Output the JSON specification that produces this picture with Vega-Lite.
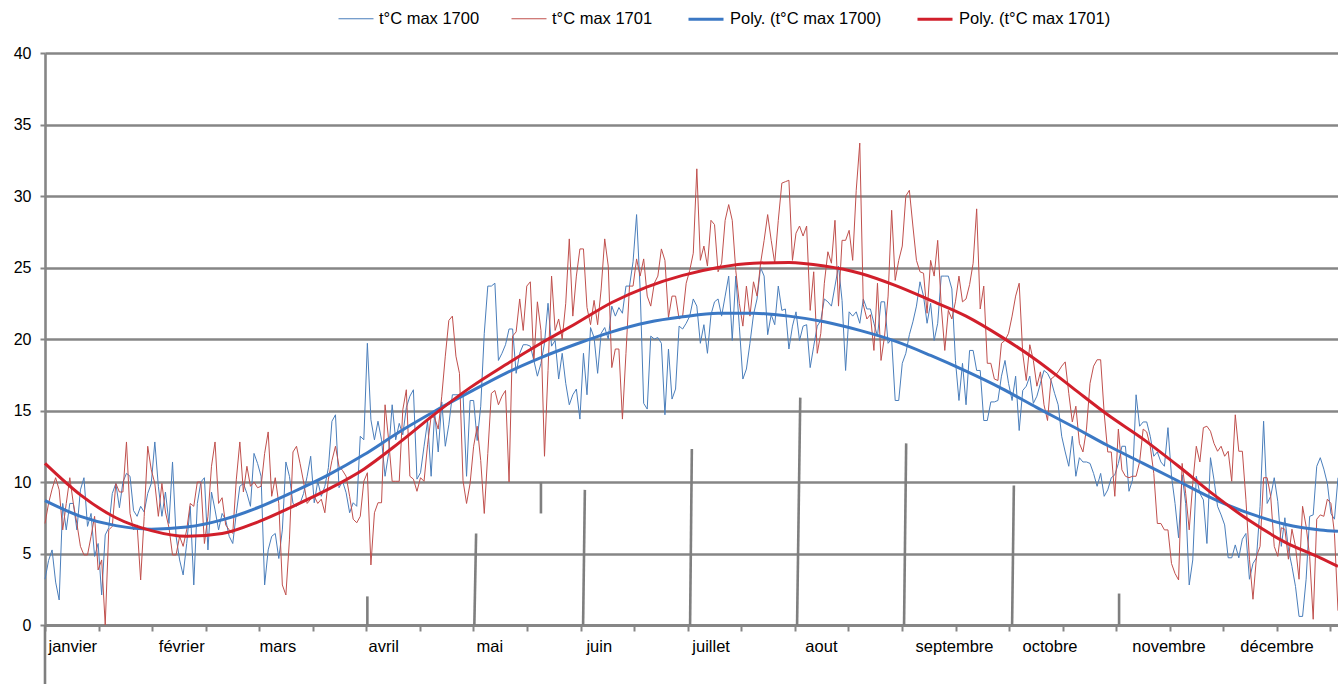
{
"$schema":"https://vega.github.io/schema/vega-lite/v6.json",
"width":1293,"height":572,
"autosize":{"type":"none"},
"padding":{"left":45,"top":53,"right":0,"bottom":59},
"background":"white",
"config":{"font":"Liberation Sans","view":{"stroke":null}},
"datasets":{
"raw":[
{"d":0,"a":3.2,"b":7.1},{"d":1,"a":4.5,"b":8.5},{"d":2,"a":5.25,"b":9.5},{"d":3,"a":3.0,"b":10.3},{"d":4,"a":1.75,"b":9.45},{"d":5,"a":8.5,"b":6.65},{"d":6,"a":6.65,"b":8.5},{"d":7,"a":8.5,"b":10.3},{"d":8,"a":8.5,"b":8.5},{"d":9,"a":6.65,"b":7.1},
{"d":10,"a":9.45,"b":5.5},{"d":11,"a":10.3,"b":4.9},{"d":12,"a":6.9,"b":4.9},{"d":13,"a":7.8,"b":6.2},{"d":14,"a":4.8,"b":7.6},{"d":15,"a":5.7,"b":3.85},{"d":16,"a":2.1,"b":4.55},{"d":17,"a":6.3,"b":0.0},{"d":18,"a":6.8,"b":6.65},{"d":19,"a":9.2,"b":6.9},
{"d":20,"a":9.9,"b":9.9},{"d":21,"a":8.2,"b":9.3},{"d":22,"a":10.0,"b":9.3},{"d":23,"a":10.6,"b":12.8},{"d":24,"a":10.4,"b":7.8},{"d":25,"a":8.0,"b":6.65},{"d":26,"a":7.6,"b":7.0},{"d":27,"a":8.3,"b":3.15},{"d":28,"a":7.9,"b":7.6},{"d":29,"a":9.2,"b":12.5},
{"d":30,"a":9.9,"b":10.85},{"d":31,"a":12.8,"b":9.9},{"d":32,"a":9.7,"b":7.6},{"d":33,"a":7.6,"b":9.9},{"d":34,"a":9.3,"b":7.9},{"d":35,"a":7.1,"b":6.8},{"d":36,"a":11.4,"b":4.9},{"d":37,"a":6.2,"b":4.9},{"d":38,"a":4.55,"b":6.2},{"d":39,"a":3.5,"b":5.5},
{"d":40,"a":5.7,"b":6.65},{"d":41,"a":8.3,"b":8.5},{"d":42,"a":2.8,"b":8.3},{"d":43,"a":8.5,"b":10.0},{"d":44,"a":10.0,"b":10.0},{"d":45,"a":10.3,"b":5.7},{"d":46,"a":5.25,"b":7.6},{"d":47,"a":9.3,"b":11.1},{"d":48,"a":8.05,"b":12.8},{"d":49,"a":6.65,"b":8.5},
{"d":50,"a":7.8,"b":8.9},{"d":51,"a":7.35,"b":7.0},{"d":52,"a":6.2,"b":6.65},{"d":53,"a":5.7,"b":6.4},{"d":54,"a":7.8,"b":10.15},{"d":55,"a":9.7,"b":12.8},{"d":56,"a":9.9,"b":9.3},{"d":57,"a":9.2,"b":11.1},{"d":58,"a":8.3,"b":9.7},{"d":59,"a":12.0,"b":10.0},
{"d":60,"a":11.3,"b":9.6},{"d":61,"a":10.4,"b":9.7},{"d":62,"a":2.8,"b":12.0},{"d":63,"a":5.25,"b":13.5},{"d":64,"a":6.2,"b":9.0},{"d":65,"a":6.4,"b":10.3},{"d":66,"a":4.65,"b":8.5},{"d":67,"a":6.65,"b":2.8},{"d":68,"a":11.4,"b":2.1},{"d":69,"a":10.4,"b":5.95},
{"d":70,"a":8.5,"b":12.1},{"d":71,"a":8.3,"b":12.5},{"d":72,"a":8.5,"b":11.3},{"d":73,"a":9.2,"b":10.0},{"d":74,"a":10.4,"b":8.5},{"d":75,"a":11.8,"b":8.8},{"d":76,"a":8.55,"b":9.0},{"d":77,"a":10.05,"b":8.5},{"d":78,"a":9.0,"b":8.8},{"d":79,"a":9.7,"b":7.85},
{"d":80,"a":11.0,"b":10.2},{"d":81,"a":14.25,"b":11.5},{"d":82,"a":14.7,"b":12.5},{"d":83,"a":9.6,"b":11.1},{"d":84,"a":10.05,"b":10.8},{"d":85,"a":9.25,"b":10.4},{"d":86,"a":7.85,"b":9.0},{"d":87,"a":8.55,"b":7.4},{"d":88,"a":8.3,"b":7.15},{"d":89,"a":13.2,"b":7.6},
{"d":90,"a":12.95,"b":10.05},{"d":91,"a":19.7,"b":10.65},{"d":92,"a":14.35,"b":4.2},{"d":93,"a":12.95,"b":7.85},{"d":94,"a":14.25,"b":8.55},{"d":95,"a":12.95,"b":8.55},{"d":96,"a":10.4,"b":15.4},{"d":97,"a":12.0,"b":12.95},{"d":98,"a":15.4,"b":10.05},{"d":99,"a":12.95,"b":10.05},
{"d":100,"a":14.1,"b":10.05},{"d":101,"a":13.3,"b":15.05},{"d":102,"a":15.2,"b":16.45},{"d":103,"a":16.0,"b":10.4},{"d":104,"a":16.45,"b":10.2},{"d":105,"a":10.2,"b":9.35},{"d":106,"a":10.65,"b":10.3},{"d":107,"a":12.5,"b":10.05},{"d":108,"a":14.25,"b":12.6},{"d":109,"a":10.4,"b":14.6},
{"d":110,"a":14.9,"b":14.5},{"d":111,"a":12.1,"b":13.7},{"d":112,"a":15.6,"b":16.0},{"d":113,"a":12.5,"b":18.8},{"d":114,"a":14.0,"b":21.3},{"d":115,"a":16.1,"b":21.6},{"d":116,"a":16.1,"b":18.8},{"d":117,"a":16.1,"b":17.6},{"d":118,"a":16.2,"b":10.1},{"d":119,"a":10.4,"b":8.5},
{"d":120,"a":15.7,"b":9.9},{"d":121,"a":15.7,"b":12.5},{"d":122,"a":12.9,"b":13.9},{"d":123,"a":15.3,"b":11.5},{"d":124,"a":20.4,"b":7.8},{"d":125,"a":23.7,"b":12.0},{"d":126,"a":23.7,"b":16.2},{"d":127,"a":23.9,"b":16.4},{"d":128,"a":18.5,"b":15.4},{"d":129,"a":19.0,"b":16.0},
{"d":130,"a":19.6,"b":16.4},{"d":131,"a":20.7,"b":10.0},{"d":132,"a":20.7,"b":20.2},{"d":133,"a":17.6,"b":20.5},{"d":134,"a":19.0,"b":22.8},{"d":135,"a":19.6,"b":20.6},{"d":136,"a":19.6,"b":23.7},{"d":137,"a":19.5,"b":24.0},{"d":138,"a":18.5,"b":18.4},{"d":139,"a":17.4,"b":22.6},
{"d":140,"a":18.3,"b":20.6},{"d":141,"a":19.7,"b":11.8},{"d":142,"a":22.5,"b":17.8},{"d":143,"a":19.5,"b":24.4},{"d":144,"a":19.9,"b":20.6},{"d":145,"a":17.2,"b":21.4},{"d":146,"a":19.0,"b":20.0},{"d":147,"a":16.9,"b":22.5},{"d":148,"a":15.4,"b":27.0},{"d":149,"a":16.1,"b":21.6},
{"d":150,"a":16.5,"b":24.4},{"d":151,"a":14.4,"b":26.3},{"d":152,"a":19.0,"b":26.3},{"d":153,"a":16.1,"b":22.2},{"d":154,"a":20.8,"b":21.0},{"d":155,"a":20.1,"b":22.7},{"d":156,"a":17.6,"b":21.0},{"d":157,"a":20.4,"b":23.5},{"d":158,"a":20.8,"b":27.0},{"d":159,"a":20.0,"b":25.1},
{"d":160,"a":22.3,"b":18.0},{"d":161,"a":21.6,"b":19.3},{"d":162,"a":22.2,"b":19.3},{"d":163,"a":21.8,"b":14.4},{"d":164,"a":23.7,"b":19.0},{"d":165,"a":23.7,"b":23.7},{"d":166,"a":25.4,"b":23.7},{"d":167,"a":28.7,"b":25.6},{"d":168,"a":23.5,"b":24.4},{"d":169,"a":15.5,"b":25.6},
{"d":170,"a":15.1,"b":23.0},{"d":171,"a":20.2,"b":22.3},{"d":172,"a":20.0,"b":23.9},{"d":173,"a":20.1,"b":24.4},{"d":174,"a":19.7,"b":26.3},{"d":175,"a":14.7,"b":25.5},{"d":176,"a":19.3,"b":21.5},{"d":177,"a":15.8,"b":23.0},{"d":178,"a":16.5,"b":23.0},{"d":179,"a":20.9,"b":21.4},
{"d":180,"a":20.7,"b":21.6},{"d":181,"a":21.1,"b":23.9},{"d":182,"a":21.6,"b":24.8},{"d":183,"a":22.8,"b":26.0},{"d":184,"a":22.3,"b":31.9},{"d":185,"a":19.7,"b":25.5},{"d":186,"a":21.0,"b":26.5},{"d":187,"a":19.0,"b":25.1},{"d":188,"a":21.7,"b":28.3},{"d":189,"a":22.6,"b":28.0},
{"d":190,"a":22.8,"b":24.7},{"d":191,"a":21.6,"b":25.3},{"d":192,"a":23.0,"b":28.3},{"d":193,"a":24.4,"b":29.4},{"d":194,"a":19.9,"b":28.3},{"d":195,"a":24.4,"b":24.8},{"d":196,"a":20.9,"b":22.5},{"d":197,"a":17.2,"b":20.9},{"d":198,"a":17.9,"b":23.7},{"d":199,"a":19.7,"b":21.6},
{"d":200,"a":21.7,"b":24.0},{"d":201,"a":22.8,"b":23.0},{"d":202,"a":25.0,"b":25.3},{"d":203,"a":24.4,"b":26.9},{"d":204,"a":20.3,"b":28.7},{"d":205,"a":21.7,"b":26.9},{"d":206,"a":21.0,"b":25.3},{"d":207,"a":23.7,"b":28.3},{"d":208,"a":22.0,"b":30.9},{"d":209,"a":22.1,"b":31.0},
{"d":210,"a":19.3,"b":31.1},{"d":211,"a":20.9,"b":25.5},{"d":212,"a":21.9,"b":27.4},{"d":213,"a":19.9,"b":27.9},{"d":214,"a":20.9,"b":27.2},{"d":215,"a":21.0,"b":27.9},{"d":216,"a":18.0,"b":22.0},{"d":217,"a":19.5,"b":24.7},{"d":218,"a":20.9,"b":19.0},{"d":219,"a":21.3,"b":20.4},
{"d":220,"a":22.8,"b":23.9},{"d":221,"a":22.6,"b":26.1},{"d":222,"a":22.3,"b":25.3},{"d":223,"a":23.7,"b":28.3},{"d":224,"a":25.1,"b":22.3},{"d":225,"a":22.7,"b":26.9},{"d":226,"a":17.8,"b":26.9},{"d":227,"a":21.9,"b":27.6},{"d":228,"a":21.6,"b":25.5},{"d":229,"a":21.9,"b":30.4},
{"d":230,"a":21.1,"b":33.7},{"d":231,"a":22.8,"b":22.4},{"d":232,"a":22.1,"b":21.4},{"d":233,"a":22.1,"b":21.7},{"d":234,"a":21.1,"b":19.2},{"d":235,"a":20.2,"b":23.9},{"d":236,"a":22.6,"b":18.5},{"d":237,"a":22.6,"b":20.2},{"d":238,"a":19.7,"b":23.0},{"d":239,"a":20.0,"b":29.0},
{"d":240,"a":15.7,"b":24.1},{"d":241,"a":15.7,"b":25.5},{"d":242,"a":18.3,"b":26.5},{"d":243,"a":19.0,"b":30.0},{"d":244,"a":20.3,"b":30.4},{"d":245,"a":21.2,"b":27.9},{"d":246,"a":22.3,"b":25.5},{"d":247,"a":24.0,"b":24.7},{"d":248,"a":23.0,"b":24.6},{"d":249,"a":21.1,"b":21.8},
{"d":250,"a":22.5,"b":25.5},{"d":251,"a":19.9,"b":24.4},{"d":252,"a":21.1,"b":26.9},{"d":253,"a":24.4,"b":22.3},{"d":254,"a":24.4,"b":19.2},{"d":255,"a":24.4,"b":22.0},{"d":256,"a":23.5,"b":21.4},{"d":257,"a":18.5,"b":22.6},{"d":258,"a":15.7,"b":24.4},{"d":259,"a":18.3,"b":22.6},
{"d":260,"a":15.4,"b":22.8},{"d":261,"a":19.2,"b":23.8},{"d":262,"a":19.2,"b":25.3},{"d":263,"a":17.8,"b":29.1},{"d":264,"a":17.8,"b":22.1},{"d":265,"a":14.3,"b":23.7},{"d":266,"a":14.3,"b":18.3},{"d":267,"a":15.6,"b":18.3},{"d":268,"a":15.6,"b":17.2},{"d":269,"a":15.7,"b":17.1},
{"d":270,"a":17.4,"b":19.7},{"d":271,"a":18.5,"b":19.9},{"d":272,"a":16.9,"b":20.4},{"d":273,"a":15.7,"b":21.6},{"d":274,"a":17.4,"b":23.0},{"d":275,"a":13.6,"b":23.9},{"d":276,"a":16.4,"b":19.0},{"d":277,"a":16.7,"b":17.1},{"d":278,"a":17.4,"b":19.6},{"d":279,"a":15.5,"b":18.5},
{"d":280,"a":16.0,"b":16.7},{"d":281,"a":16.9,"b":17.7},{"d":282,"a":17.8,"b":15.4},{"d":283,"a":17.6,"b":14.3},{"d":284,"a":17.1,"b":17.2},{"d":285,"a":16.2,"b":17.4},{"d":286,"a":15.4,"b":17.7},{"d":287,"a":13.2,"b":18.1},{"d":288,"a":12.1,"b":18.4},{"d":289,"a":11.1,"b":16.2},
{"d":290,"a":13.2,"b":14.2},{"d":291,"a":10.4,"b":15.3},{"d":292,"a":11.7,"b":12.7},{"d":293,"a":11.4,"b":12.1},{"d":294,"a":11.4,"b":13.7},{"d":295,"a":11.3,"b":16.9},{"d":296,"a":10.6,"b":18.1},{"d":297,"a":9.7,"b":18.55},{"d":298,"a":10.6,"b":18.55},{"d":299,"a":9.0,"b":14.8},
{"d":300,"a":9.45,"b":12.1},{"d":301,"a":10.3,"b":12.1},{"d":302,"a":10.5,"b":9.0},{"d":303,"a":11.3,"b":13.7},{"d":304,"a":12.5,"b":10.85},{"d":305,"a":12.5,"b":10.4},{"d":306,"a":9.35,"b":10.3},{"d":307,"a":10.15,"b":10.4},{"d":308,"a":16.1,"b":10.4},{"d":309,"a":13.9,"b":11.4},
{"d":310,"a":14.2,"b":13.7},{"d":311,"a":14.2,"b":13.5},{"d":312,"a":13.2,"b":12.5},{"d":313,"a":11.8,"b":10.6},{"d":314,"a":12.1,"b":7.1},{"d":315,"a":11.4,"b":7.1},{"d":316,"a":11.1,"b":6.65},{"d":317,"a":13.8,"b":6.65},{"d":318,"a":10.4,"b":4.3},{"d":319,"a":8.5,"b":3.6},
{"d":320,"a":6.1,"b":3.15},{"d":321,"a":10.5,"b":11.3},{"d":322,"a":8.5,"b":9.2},{"d":323,"a":2.8,"b":6.65},{"d":324,"a":4.55,"b":9.9},{"d":325,"a":10.4,"b":12.5},{"d":326,"a":9.2,"b":11.4},{"d":327,"a":8.75,"b":13.8},{"d":328,"a":5.7,"b":13.9},{"d":329,"a":11.7,"b":13.55},
{"d":330,"a":10.15,"b":12.7},{"d":331,"a":8.3,"b":12.15},{"d":332,"a":7.7,"b":12.5},{"d":333,"a":7.0,"b":11.8},{"d":334,"a":4.7,"b":12.15},{"d":335,"a":4.7,"b":10.05},{"d":336,"a":5.6,"b":14.7},{"d":337,"a":4.7,"b":12.15},{"d":338,"a":6.0,"b":12.15},{"d":339,"a":6.4,"b":8.8},
{"d":340,"a":3.2,"b":4.6},{"d":341,"a":4.3,"b":1.8},{"d":342,"a":4.7,"b":4.8},{"d":343,"a":8.3,"b":5.5},{"d":344,"a":14.25,"b":10.3},{"d":345,"a":8.5,"b":10.3},{"d":346,"a":9.0,"b":9.0},{"d":347,"a":10.3,"b":5.5},{"d":348,"a":8.65,"b":4.8},{"d":349,"a":5.5,"b":6.8},
{"d":350,"a":7.5,"b":6.7},{"d":351,"a":5.3,"b":4.6},{"d":352,"a":4.1,"b":6.7},{"d":353,"a":2.7,"b":5.5},{"d":354,"a":0.6,"b":3.2},{"d":355,"a":0.6,"b":8.3},{"d":356,"a":3.2,"b":6.9},{"d":357,"a":7.6,"b":4.8},{"d":358,"a":7.7,"b":0.4},{"d":359,"a":11.1,"b":7.4},
{"d":360,"a":11.7,"b":7.7},{"d":361,"a":10.9,"b":7.6},{"d":362,"a":9.9,"b":8.8},{"d":363,"a":7.8,"b":8.5},{"d":364,"a":7.4,"b":6.4},{"d":365,"a":10.3,"b":1.0}
],
"poly":[
{"d":0,"s":"pa","v":8.7},{"d":10,"s":"pa","v":7.6},{"d":20,"s":"pa","v":6.95},{"d":30,"s":"pa","v":6.7},{"d":40,"s":"pa","v":6.85},{"d":50,"s":"pa","v":7.35},{"d":60,"s":"pa","v":8.2},{"d":70,"s":"pa","v":9.3},{"d":80,"s":"pa","v":10.5},{"d":90,"s":"pa","v":11.9},{"d":100,"s":"pa","v":13.5},{"d":110,"s":"pa","v":14.95},{"d":120,"s":"pa","v":16.3},{"d":130,"s":"pa","v":17.6},{"d":140,"s":"pa","v":18.7},{"d":150,"s":"pa","v":19.65},{"d":160,"s":"pa","v":20.5},{"d":170,"s":"pa","v":21.15},{"d":180,"s":"pa","v":21.55},{"d":190,"s":"pa","v":21.8},{"d":200,"s":"pa","v":21.8},{"d":210,"s":"pa","v":21.6},{"d":220,"s":"pa","v":21.2},{"d":230,"s":"pa","v":20.6},{"d":240,"s":"pa","v":19.85},{"d":250,"s":"pa","v":18.85},{"d":260,"s":"pa","v":17.75},{"d":270,"s":"pa","v":16.55},{"d":280,"s":"pa","v":15.2},{"d":290,"s":"pa","v":13.9},{"d":300,"s":"pa","v":12.55},{"d":310,"s":"pa","v":11.3},{"d":320,"s":"pa","v":10.05},{"d":330,"s":"pa","v":8.8},{"d":340,"s":"pa","v":7.8},{"d":350,"s":"pa","v":7.05},{"d":360,"s":"pa","v":6.65},{"d":365,"s":"pa","v":6.55},
{"d":0,"s":"pb","v":11.3},{"d":10,"s":"pb","v":9.1},{"d":20,"s":"pb","v":7.5},{"d":30,"s":"pb","v":6.6},{"d":40,"s":"pb","v":6.2},{"d":50,"s":"pb","v":6.4},{"d":60,"s":"pb","v":7.2},{"d":70,"s":"pb","v":8.3},{"d":80,"s":"pb","v":9.5},{"d":90,"s":"pb","v":10.9},{"d":100,"s":"pb","v":12.75},{"d":110,"s":"pb","v":14.75},{"d":120,"s":"pb","v":16.6},{"d":130,"s":"pb","v":18.2},{"d":140,"s":"pb","v":19.7},{"d":150,"s":"pb","v":21.1},{"d":160,"s":"pb","v":22.55},{"d":170,"s":"pb","v":23.65},{"d":180,"s":"pb","v":24.45},{"d":190,"s":"pb","v":25.0},{"d":200,"s":"pb","v":25.3},{"d":210,"s":"pb","v":25.35},{"d":220,"s":"pb","v":25.1},{"d":230,"s":"pb","v":24.6},{"d":240,"s":"pb","v":23.75},{"d":250,"s":"pb","v":22.7},{"d":260,"s":"pb","v":21.6},{"d":270,"s":"pb","v":20.15},{"d":280,"s":"pb","v":18.5},{"d":290,"s":"pb","v":16.6},{"d":300,"s":"pb","v":14.7},{"d":310,"s":"pb","v":13.0},{"d":320,"s":"pb","v":11.1},{"d":330,"s":"pb","v":9.1},{"d":340,"s":"pb","v":7.3},{"d":350,"s":"pb","v":5.8},{"d":360,"s":"pb","v":4.7},{"d":365,"s":"pb","v":4.1}
],
"marks":[
{"x1":91.0,"x2":91.0,"y1":0,"y2":2.0},
{"x1":121.2,"x2":121.7,"y1":0,"y2":6.4},
{"x1":140.0,"x2":140.0,"y1":7.8,"y2":10.0},
{"x1":151.9,"x2":152.4,"y1":0,"y2":9.45},
{"x1":182.1,"x2":182.6,"y1":0,"y2":12.3},
{"x1":212.3,"x2":213.2,"y1":0,"y2":15.9},
{"x1":242.5,"x2":243.1,"y1":0,"y2":12.7},
{"x1":273.0,"x2":273.5,"y1":0,"y2":9.75},
{"x1":303.2,"x2":303.2,"y1":0,"y2":2.2},
{"x1":0,"x2":0,"y1":0,"y2":-4.2}
]
},
"resolve":{"axis":{"x":"independent","y":"independent"}},
"layer":[
{
"data":{"name":"marks"},
"mark":{"type":"rule","color":"#7f7f7f","strokeWidth":2.6},
"encoding":{
"x":{"field":"x1","type":"quantitative","scale":{"domain":[0,365],"nice":false,"zero":false},
"axis":{"orient":"bottom","values":[0.85,32,60.4,91.2,121.7,152.7,182.6,214.5,245.6,275.8,306.8,337.3],
"labelExpr":"['janvier','février','mars','avril','mai','juin','juillet','aout','septembre','octobre','novembre','décembre'][indexof([0.85,32,60.4,91.2,121.7,152.7,182.6,214.5,245.6,275.8,306.8,337.3], datum.value)]",
"ticks":false,"domain":false,"grid":false,"labelAlign":"left","labelBaseline":"top","labelFontSize":16.5,"labelColor":"#000000","labelPadding":13,"labelOverlap":false,"labelBound":false,"labelFlush":false,"title":null}},
"x2":{"field":"x2"},
"y":{"field":"y1","type":"quantitative","scale":{"domain":[0,40],"nice":false,"zero":false},"axis":null},
"y2":{"field":"y2"}
}
},
{
"data":{"name":"raw"},
"transform":[{"fold":["a","b"],"as":["s","v"]}],
"mark":{"type":"line","interpolate":"linear"},
"encoding":{
"x":{"field":"d","type":"quantitative","scale":{"domain":[0,365],"nice":false,"zero":false},
"axis":{"orient":"bottom","values":[0,15.12,30.24,45.36,60.48,75.6,90.72,105.84,120.96,136.08,151.2,166.32,181.44,196.56,211.68,226.8,241.92,257.04,272.16,287.28,302.4,317.52,332.64,347.76,362.88],
"labels":false,"grid":false,"domainColor":"#868686","domainWidth":3,"tickColor":"#868686","tickWidth":2,"tickSize":6,"title":null}},
"y":{"field":"v","type":"quantitative","scale":{"domain":[0,40],"nice":false,"zero":false},
"axis":{"orient":"left","values":[0,5,10,15,20,25,30,35,40],"grid":true,"gridColor":"#868686","gridWidth":2.6,"domainColor":"#868686","domainWidth":2.6,"tickColor":"#868686","tickWidth":2,"tickSize":5,"labelFontSize":16,"labelColor":"#000000","labelPadding":9,"title":null}},
"color":{"field":"s","type":"ordinal","scale":{"domain":["a","b","pa","pb"],"range":["#4a7ebb","#c0504d","#3b78c4","#d11f2b"]},
"legend":{"orient":"none","legendX":293,"legendY":-53,"direction":"horizontal","title":null,"labelFontSize":16.5,"labelColor":"#000000","symbolType":"stroke","symbolSize":1225,"labelOffset":5,"columnPadding":29,"labelLimit":0,
"labelExpr":"datum.label == 'a' ? 't°C max 1700' : datum.label == 'b' ? 't°C max 1701' : datum.label == 'pa' ? 'Poly. (t°C max 1700)' : 'Poly. (t°C max 1701)'"}},
"strokeWidth":{"field":"s","type":"ordinal","scale":{"type":"ordinal","domain":["a","b","pa","pb"],"range":[1,1,3,3]},
"legend":{"orient":"none","legendX":293,"legendY":-53,"direction":"horizontal","title":null,"labelFontSize":16.5,"labelColor":"#000000","symbolType":"stroke","symbolSize":1225,"labelOffset":5,"columnPadding":29,"labelLimit":0,
"labelExpr":"datum.label == 'a' ? 't°C max 1700' : datum.label == 'b' ? 't°C max 1701' : datum.label == 'pa' ? 'Poly. (t°C max 1700)' : 'Poly. (t°C max 1701)'"}}
}
},
{
"data":{"name":"poly"},
"mark":{"type":"line","interpolate":"monotone"},
"encoding":{
"x":{"field":"d","type":"quantitative","scale":{"domain":[0,365],"nice":false,"zero":false},"axis":null},
"y":{"field":"v","type":"quantitative","scale":{"domain":[0,40],"nice":false,"zero":false},"axis":null},
"color":{"field":"s","type":"ordinal","scale":{"domain":["a","b","pa","pb"],"range":["#4a7ebb","#c0504d","#3b78c4","#d11f2b"]}},
"strokeWidth":{"field":"s","type":"ordinal","scale":{"type":"ordinal","domain":["a","b","pa","pb"],"range":[1,1,3,3]}}
}
}
]
}
